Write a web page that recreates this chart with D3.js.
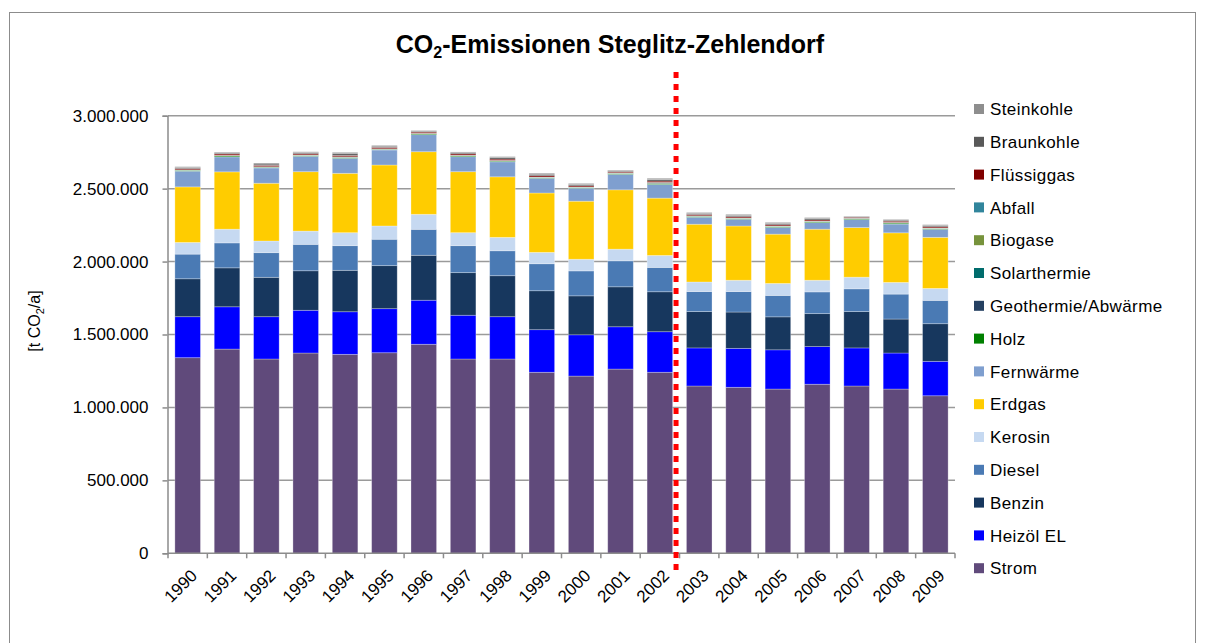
<!DOCTYPE html>
<html>
<head>
<meta charset="utf-8">
<script src="https://cdn.jsdelivr.net/npm/d3@7"></script>
<style>
  body { margin: 0; background: #fff; }
  svg { font-family: "Liberation Sans", Arial, sans-serif; }
</style>
</head>
<body>
<div id="chart"></div>
<script>
// Jahre
var years = ["1990","1991","1992","1993","1994","1995","1996","1997","1998","1999",
             "2000","2001","2002","2003","2004","2005","2006","2007","2008","2009"];

// Energietraeger, Reihenfolge von unten nach oben
var seriesNames = ["Strom","Heizöl EL","Benzin","Diesel","Kerosin","Erdgas","Fernwärme","Holz",
                   "Geothermie/Abwärme","Solarthermie","Biogase","Abfall","Flüssiggas","Braunkohle","Steinkohle"];
var seriesColors = ["#604a7b","#0000ff","#17375e","#4a7ab4","#c6d9f1","#ffcc00","#7f9fcf","#008000",
                    "#254061","#006c6c","#77933c","#31859c","#800000","#595959","#8e8e8e"];

// t CO2/a
var strom = [1341000,1400000,1332000,1373000,1364000,1375000,1433000,1332000,1332000,1241000,1215000,1263000,1241000,1147000,1138000,1126000,1159000,1147000,1126000,1080000];
var heizoel = [281000,290000,290000,293000,292000,302000,302000,300000,290000,292000,283000,290000,278000,261000,267000,269000,258000,261000,247000,236000];
var benzin = [260000,267000,270000,271000,284000,295000,308000,292000,281000,267000,267000,274000,274000,249000,249000,226000,226000,249000,233000,258000];
var diesel = [169000,171000,169000,181000,169000,181000,178000,185000,171000,185000,171000,178000,167000,137000,140000,147000,149000,156000,171000,160000];
var kerosin = [80000,94000,80000,91000,89000,91000,103000,89000,92000,78000,80000,80000,82000,66000,78000,82000,80000,80000,80000,82000];
var erdgas = [381000,393000,396000,407000,407000,418000,429000,418000,415000,407000,398000,407000,393000,396000,372000,338000,350000,340000,340000,350000];
var fernwaerme = [108000,103000,105000,106000,103000,103000,117000,103000,103000,101000,89000,106000,94000,48000,46000,46000,45000,55000,60000,55000];
var holz = [6000,7000,5000,5000,6000,5000,6000,6000,5000,5000,5000,6000,7000,6000,5000,6000,6000,5000,7000,5000];
var geothermie = [1000,1000,1000,2000,2000,1000,1000,2000,2000,1000,1000,1000,3000,1000,1000,1000,1000,1000,1000,1000];
var solarthermie = [500,500,500,500,500,500,500,500,500,600,600,700,800,900,1000,1000,1100,1200,1300,1400];
var biogase = [1000,1000,1000,1000,1000,1000,1000,1000,1000,1000,1000,1000,1000,1500,1500,1500,1500,1500,1500,1500];
var abfall = [1000,1000,1000,1000,1000,1000,1000,1000,1000,1000,1000,2500,2000,1000,1000,1000,1000,1000,1000,1000];
var fluessiggas = [8000,9000,9000,8000,9000,9000,8000,9000,9000,9000,8000,7000,9000,8000,8000,8000,8000,6000,8000,8000];
var braunkohle = [7000,6000,9000,7000,12000,8000,6000,7000,10000,10000,9000,6000,11000,8000,9000,9000,9000,4000,7000,8000];
var steinkohle = [6000,6000,7000,6000,9000,6000,5000,6000,7000,7000,7000,5000,8000,6000,7000,7000,7000,3000,5000,6000];

var yTicks = [0, 500000, 1000000, 1500000, 2000000, 2500000, 3000000];
var splitAfter = "2002";

var seriesValues = [strom, heizoel, benzin, diesel, kerosin, erdgas, fernwaerme, holz,
                    geothermie, solarthermie, biogase, abfall, fluessiggas, braunkohle, steinkohle];

// Tabelle fuer d3.stack
var table = years.map(function(y, i) {
  var row = { year: y };
  seriesNames.forEach(function(n, k) { row[n] = seriesValues[k][i]; });
  return row;
});

var W = 1206, H = 643;
var plot = { left: 168, right: 955, top: 115.7, bottom: 553.3 };

var svg = d3.select("#chart").append("svg")
  .attr("width", W)
  .attr("height", H);

// Rahmen
svg.append("rect")
  .attr("x", 9.5).attr("y", 12.5)
  .attr("width", 1186).attr("height", 700)
  .attr("fill", "none")
  .attr("stroke", "#8c8c8c")
  .attr("stroke-width", 1);

var x = d3.scaleBand()
  .domain(years)
  .range([plot.left, plot.right])
  .paddingInner(0.35)
  .paddingOuter(0.175);

var y = d3.scaleLinear()
  .domain([0, 3000000])
  .range([plot.bottom, plot.top]);

var fmt = function(v) {
  return v === 0 ? "0" : d3.format(",")(v).replace(/,/g, ".");
};

// Gitterlinien
svg.append("g").selectAll("line")
  .data(yTicks.filter(function(d) { return d > 0; }))
  .enter().append("line")
  .attr("x1", plot.left).attr("x2", plot.right)
  .attr("y1", function(d) { return y(d); })
  .attr("y2", function(d) { return y(d); })
  .attr("stroke", "#9a9a9a")
  .attr("stroke-width", 1.5);

// Balken
var stacked = d3.stack().keys(seriesNames)(table);
var color = d3.scaleOrdinal().domain(seriesNames).range(seriesColors);

svg.append("g").selectAll("g")
  .data(stacked)
  .enter().append("g")
  .attr("fill", function(d) { return color(d.key); })
  .selectAll("rect")
  .data(function(d) { return d; })
  .enter().append("rect")
  .attr("x", function(d) { return x(d.data.year); })
  .attr("width", x.bandwidth())
  .attr("y", function(d) { return y(d[1]); })
  .attr("height", function(d) { return y(d[0]) - y(d[1]); })
  .attr("stroke", "rgba(255,255,255,0.35)")
  .attr("stroke-width", 0.8);

// Y-Achse
var yAxis = svg.append("g")
  .attr("transform", "translate(" + (plot.left - 0.5) + ",0)")
  .call(d3.axisLeft(y).tickValues(yTicks).tickSize(5).tickPadding(14).tickFormat(fmt));
yAxis.select(".domain").attr("stroke", "#8c8c8c").attr("stroke-width", 1.5);
yAxis.selectAll(".tick line").attr("stroke", "#8c8c8c").attr("stroke-width", 1.5);
yAxis.selectAll("text")
  .attr("fill", "#000")
  .style("font-size", "17px")
  .style("font-family", "'Liberation Sans', Arial, sans-serif");

// X-Achse
var xAxisG = svg.append("g").attr("transform", "translate(0," + plot.bottom + ")");
xAxisG.append("line")
  .attr("x1", plot.left).attr("x2", plot.right)
  .attr("stroke", "#8c8c8c").attr("stroke-width", 1.5);
var bounds = years.map(function(yr) { return x(yr) - x.step() * x.paddingInner() / 2; });
bounds.push(plot.right);
xAxisG.selectAll(".xtick").data(bounds).enter().append("line")
  .attr("class", "xtick")
  .attr("x1", function(d) { return d; }).attr("x2", function(d) { return d; })
  .attr("y1", 0).attr("y2", 5)
  .attr("stroke", "#8c8c8c").attr("stroke-width", 1.5);
xAxisG.selectAll(".xlabel").data(years).enter().append("text")
  .attr("class", "xlabel")
  .attr("transform", function(d) {
    return "translate(" + (x(d) + x.bandwidth() / 2 + 2) + ",15) rotate(-45)";
  })
  .attr("text-anchor", "end")
  .attr("dy", "0.7em")
  .style("font-size", "17px")
  .text(function(d) { return d; });

// rote Trennlinie
var splitX = x(splitAfter) + x.bandwidth() + (x.step() - x.bandwidth()) / 2 - 3.5;
svg.append("line")
  .attr("x1", splitX).attr("x2", splitX)
  .attr("y1", 72).attr("y2", 576)
  .attr("stroke", "#ff0000")
  .attr("stroke-width", 5)
  .attr("stroke-dasharray", "6,6");

// Titel
var title = svg.append("text")
  .attr("x", 610).attr("y", 53)
  .attr("text-anchor", "middle")
  .style("font-size", "25px")
  .style("font-weight", "bold");
title.append("tspan").text("CO");
title.append("tspan").attr("dy", 5).style("font-size", "16px").text("2");
title.append("tspan").attr("dy", -5).text("-Emissionen Steglitz-Zehlendorf");

// Y-Beschriftung
var yl = svg.append("text")
  .attr("transform", "translate(40,321) rotate(-90)")
  .attr("text-anchor", "middle")
  .style("font-size", "16px");
yl.append("tspan").text("[t CO");
yl.append("tspan").attr("dy", 4).style("font-size", "11px").text("2");
yl.append("tspan").attr("dy", -4).text("/a]");

// Legende
var legendItems = seriesNames.slice().reverse();
var legend = svg.append("g").selectAll("g")
  .data(legendItems)
  .enter().append("g")
  .attr("transform", function(d, i) { return "translate(974," + (109 + i * 32.8) + ")"; });
legend.append("rect")
  .attr("x", 0).attr("y", -5)
  .attr("width", 10).attr("height", 10)
  .attr("fill", function(d) { return color(d); });
legend.append("text")
  .attr("x", 16).attr("y", 0)
  .attr("dy", "0.36em")
  .style("font-size", "17px")
  .style("letter-spacing", "0.4px")
  .text(function(d) { return d; });
</script>
</body>
</html>
